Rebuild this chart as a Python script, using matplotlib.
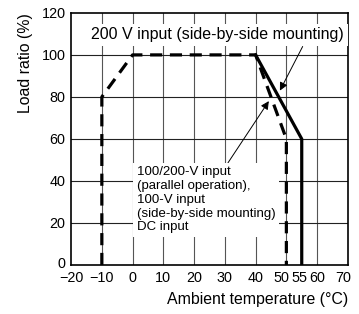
import numpy as np
import matplotlib
matplotlib.use("Agg")
import matplotlib.pyplot as plt
from matplotlib.transforms import ScaledTranslation

plt.rcParams['font.family'] = ['Liberation Sans', 'DejaVu Sans']

# derating curves
solid_x = [40, 55, 55]
solid_y = [100, 60, 0]
dashed_x = [-10, -10, 0, 40, 50, 50]
dashed_y = [0, 80, 100, 100, 60, 0]

x_ticks = [-20, -10, 0, 10, 20, 30, 40, 50, 55, 60, 70]
x_grid = [-10, 0, 10, 20, 30, 40, 50, 60]
y_ticks = [0, 20, 40, 60, 80, 100, 120]

label_top = "200 V input (side-by-side mounting)"
label_low = "100/200-V input\n(parallel operation),\n100-V input\n(side-by-side mounting)\nDC input"

fig = plt.figure(figsize=(3.59, 3.14), dpi=100)
ax = fig.add_axes([0.198, 0.156, 0.771, 0.803])

for gx in x_grid:
    ax.axvline(gx, color='#555555', lw=0.8, zorder=1)
for gy in y_ticks[1:-1]:
    ax.axhline(gy, color='#222222', lw=0.8, zorder=1)

ax.plot(dashed_x, dashed_y, color='black', lw=2.3, dashes=(3.8, 2.4), zorder=4)
ax.plot(solid_x, solid_y, color='black', lw=2.3, zorder=4)

ax.set_xlim(-20, 70)
ax.set_ylim(0, 120)
ax.set_xticks(x_ticks)
ax.set_xticklabels(['\u221220', '\u221210'] + [str(v) for v in x_ticks[2:]])
ax.set_yticks(y_ticks)
ax.tick_params(length=0, labelsize=10.4, pad=4)
for s in ax.spines.values():
    s.set_linewidth(1.2)

# nudge the crowded 50 / 55 labels apart
shifts = {'50': -5, '55': -2.5, '70': -5}
for lab in ax.get_xticklabels():
    dx = shifts.get(lab.get_text(), 0)
    if dx:
        lab.set_transform(lab.get_transform() + ScaledTranslation(dx / 100, 0, fig.dpi_scale_trans))
# lift the y "0" a touch so it clears the "-20"
ylab0 = ax.get_yticklabels()[0]
ylab0.set_transform(ylab0.get_transform() + ScaledTranslation(0, 2.5 / 100, fig.dpi_scale_trans))

ax.set_ylabel('Load ratio (%)', fontsize=11.4, loc='top', labelpad=6)
ax.set_xlabel('Ambient temperature (\u00b0C)', fontsize=11.4, loc='right', labelpad=5)

ax.text(27.7, 109.5, label_top, fontsize=11.5, ha='center', va='center', zorder=6,
        bbox=dict(facecolor='white', edgecolor='none', pad=2.5))
ax.annotate('', xy=(47.9, 83), xytext=(55.3, 104),
            arrowprops=dict(arrowstyle='-|>', lw=0.7, color='black', mutation_scale=12, shrinkA=0, shrinkB=0),
            zorder=5)

ax.text(1.4, 47, label_low, fontsize=9.5, ha='left', va='top', linespacing=1.2, zorder=6,
        bbox=dict(facecolor='white', edgecolor='none', pad=2.5))
ax.annotate('', xy=(44.3, 78), xytext=(31, 48.6),
            arrowprops=dict(arrowstyle='-|>', lw=0.7, color='black', mutation_scale=12, shrinkA=0, shrinkB=0),
            zorder=5)

fig.savefig('out.png', dpi=100)
